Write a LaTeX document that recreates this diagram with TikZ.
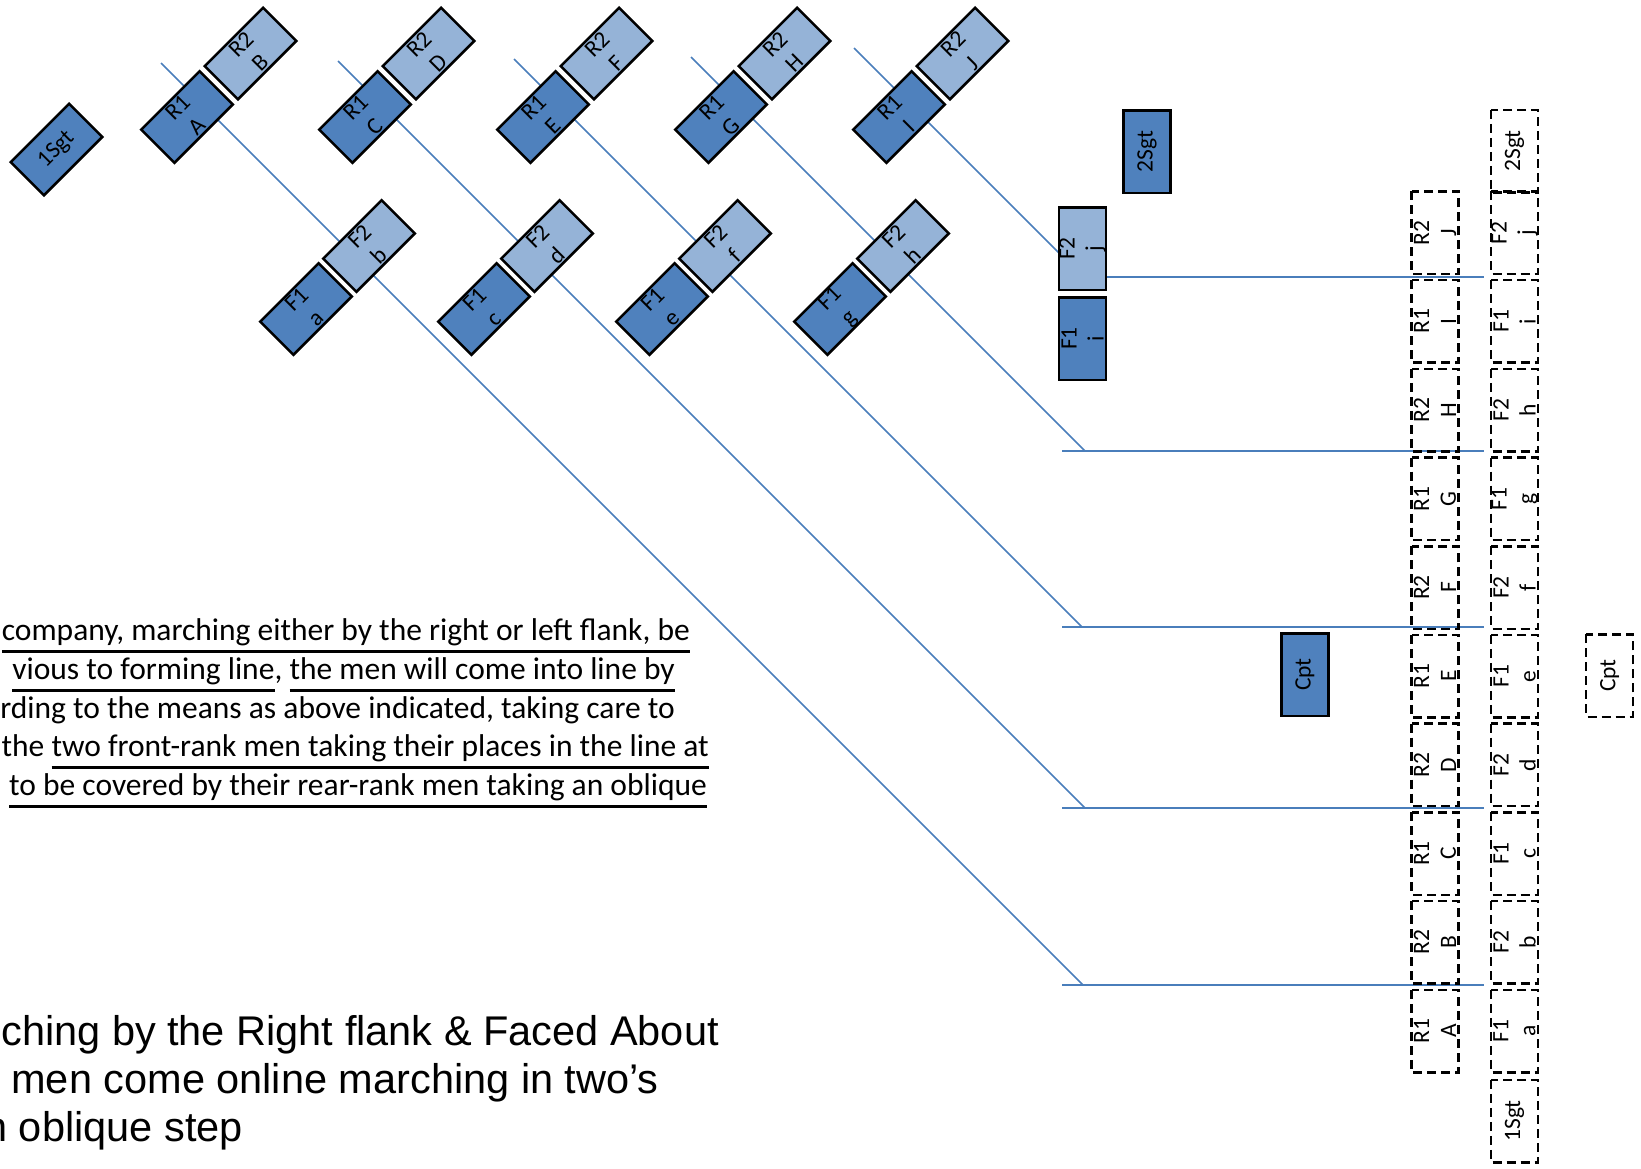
\documentclass[tikz,border=0pt]{standalone}
\usepackage{fontspec}
\setmainfont{Carlito}
\newfontfamily\arialf{Liberation Sans}
\definecolor{dkblue}{HTML}{4F81BD}
\definecolor{ltblue}{HTML}{95B3D7}
\definecolor{lnblue}{HTML}{4A7EBB}
\newsavebox\ulbox
\newcommand\ulin[1]{\sbox\ulbox{#1}\rlap{\rule[-12.3pt]{\wd\ulbox}{2.6pt}}\usebox\ulbox}
\begin{document}
\begin{tikzpicture}[x=1pt,y=-1pt,
  man/.style={draw=black,line width=2.5pt,minimum width=82.5pt,minimum height=47pt,inner sep=0pt,align=center,font=\fontsize{23.5}{27}\selectfont},
  dk/.style={man,fill=dkblue},
  lt/.style={man,fill=ltblue},
  ghost/.style={man,dash pattern=on 9pt off 5pt},
  trace/.style={draw=lnblue,line width=1.5pt},
  diag/.style={rotate=45},
  vert/.style={rotate=90},
  para/.style={anchor=base east,inner sep=0pt,font=\fontsize{31.5}{38.6}\selectfont},
  capt/.style={anchor=base east,inner sep=0pt,font=\arialf\fontsize{41.5}{48}\selectfont}]
\useasboundingbox (0,0) rectangle (1641,1168);
% trace coordinates
\coordinate (sA) at (161,63);  \coordinate (cA) at (1083,985);
\coordinate (lA) at (1062,985); \coordinate (rA) at (1484,985);
\coordinate (sC) at (338,61);  \coordinate (cC) at (1085,808);
\coordinate (lC) at (1062,808); \coordinate (rC) at (1484,808);
\coordinate (sE) at (514,59);  \coordinate (cE) at (1082,627);
\coordinate (lE) at (1062,627); \coordinate (rE) at (1484,627);
\coordinate (sG) at (691,57);  \coordinate (cG) at (1085,451);
\coordinate (lG) at (1062,451); \coordinate (rG) at (1484,451);
\coordinate (sI) at (854,48);  \coordinate (cI) at (1060,254);
\coordinate (lI) at (1107,277); \coordinate (rI) at (1484,277);
\foreach \n in {A,C,E,G} {
  \draw[trace] (s\n) -- (c\n);
  \draw[trace] (l\n) -- (r\n);
}
\draw[trace] (sI) -- (cI);
\draw[trace] (lI) -- (rI);
% sergeant
\node[dk,diag] (sgtA) at (56.5,149.5) {1Sgt};
% rear rank pairs
\foreach \k/\lo/\hi in {0/A/B,1/C/D,2/E/F,3/G/H,4/I/J} {
  \node[dk,diag] (r\lo) at ({187+178*\k},117) {R1\\\lo};
  \node[lt,diag] (r\hi) at ({250.5+178*\k},53.5) {R2\\\hi};
}
% front rank pairs
\foreach \k/\lo/\hi in {0/a/b,1/c/d,2/e/f,3/g/h} {
  \node[dk,diag] (f\lo) at ({306+178*\k},309) {F1\\\lo};
  \node[lt,diag] (f\hi) at ({369+178*\k},246) {F2\\\hi};
}
\node[lt,vert] (fj) at (1082.5,248.5) {F2\\j};
\node[dk,vert] (fi) at (1082.5,338.5) {F1\\i};
\node[dk,vert] (sgtB) at (1147,151.5) {2Sgt};
\node[dk,vert] (cpt) at (1305,674.5) {Cpt};
% final positions (dashed)
\foreach \k/\rk/\ch in {0/1/A,1/2/B,2/1/C,3/2/D,4/1/E,5/2/F,6/1/G,7/2/H,8/1/I,9/2/J} {
  \node[ghost,vert] (gR\ch) at (1435,{1031-88.7*\k}) {R\rk\\\ch};
}
\foreach \k/\rk/\ch in {0/1/a,1/2/b,2/1/c,3/2/d,4/1/e,5/2/f,6/1/g,7/2/h,8/1/i,9/2/j} {
  \node[ghost,vert] (gF\ch) at (1514.5,{1031-88.7*\k}) {F\rk\\\ch};
}
\node[ghost,vert] (gsgtB) at (1514.5,151) {2Sgt};
\node[ghost,vert] (gsgtA) at (1514.5,1121) {1Sgt};
\node[ghost,vert] (gcpt) at (1609.5,675.5) {Cpt};
% paragraph
\node[para] (p1) at (690,640.7) {\ulin{company, marching either by the right or left flank, be}};
\node[para] (p2) at (675,679.3) {\ulin{vious to forming line}, \ulin{the men will come into line by}};
\node[para] (p3) at (675,718) {rding to the means as above indicated, taking care to};
\node[para] (p4) at (709,756.6) {the \ulin{two front-rank men taking their places in the line at}};
\node[para] (p5) at (707,795.2) {\ulin{to be covered by their rear-rank men taking an oblique}};
% caption
\node[capt] (b1) at (719,1045) {ching by the Right flank \& Faced About};
\node[capt] (b2) at (659,1093.3) {men come online marching in two’s};
\node[capt] (b3) at (243,1141.7) {n oblique step};
\end{tikzpicture}
\end{document}
